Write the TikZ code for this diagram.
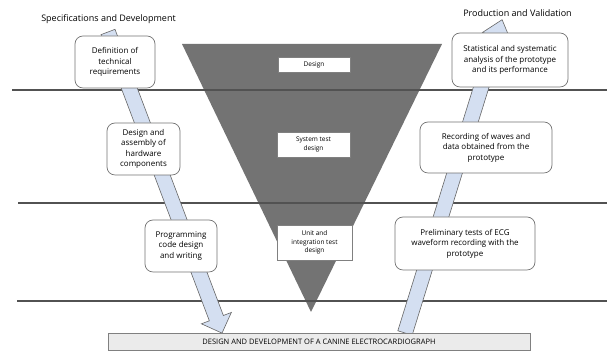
\documentclass[tikz,border=0pt]{standalone}
\usepackage{fontspec}
\setmainfont{Open Sans}
\definecolor{arrowfill}{RGB}{212,223,241}
\definecolor{trifill}{RGB}{115,115,115}
\begin{document}
\begin{tikzpicture}[x=1pt,y=1pt,
  hline/.style={draw=black!68,line width=1.1pt},
  barrow/.style={draw=black!60,fill=arrowfill,line width=0.6pt,line join=miter},
  rbox/.style={draw=black!55,fill=white,rounded corners=8pt,line width=0.7pt,align=center,
     font=\fontsize{8}{10.5}\selectfont,inner sep=2pt},
  ibox/.style={draw=black!50,fill=white,line width=0.5pt,align=center,
     font=\fontsize{6.5}{8.5}\selectfont,inner sep=1pt},
  ttl/.style={font=\fontsize{9}{11}\selectfont}]
\useasboundingbox (0,0) rectangle (611,352);
% triangle
\fill[trifill] (182,308) -- (442,308) -- (311,40) -- cycle;
% horizontal lines
\coordinate (l1a) at (12,262); \coordinate (l1b) at (607,262);
\coordinate (l2a) at (18,149); \coordinate (l2b) at (607,149);
\coordinate (l3a) at (17,51);  \coordinate (l3b) at (607,51);
\draw[hline] (l1a) -- (l1b);
\draw[hline] (l2a) -- (l2b);
\draw[hline] (l3a) -- (l3b);
% inner boxes
\node[ibox,minimum width=72pt,minimum height=15pt] (d1) at (314,287.5) {Design};
\node[ibox,minimum width=73pt,minimum height=25pt] (d2) at (313.5,207.5) {System test\\design};
\node[ibox,minimum width=75pt,minimum height=35pt] (d3) at (314.5,109.5) {Unit and\\integration test\\design};
% left arrow
\begin{scope}[shift={(108,320)},rotate=-69.26]
\draw[barrow] (0,7.5) -- (306,7.5) -- (306,16) -- (322,0) -- (306,-16) -- (306,-7.5) -- (0,-7.5) -- cycle;
\end{scope}
% right arrow
\begin{scope}[shift={(405,19)},rotate=72.78]
\draw[barrow] (0,7.5) -- (310,7.5) -- (310,15) -- (328,0) -- (310,-15) -- (310,-7.5) -- (0,-7.5) -- cycle;
\end{scope}
% boxes
\node[rbox,minimum width=80pt,minimum height=52pt] (a1) at (115,290) {Definition of\\technical\\requirements};
\node[rbox,minimum width=73pt,minimum height=52pt] (a2) at (143.5,203) {Design and\\assembly of\\hardware\\components};
\node[rbox,minimum width=72pt,minimum height=52pt] (a3) at (181,106) {Programming\\code design\\and writing};
\node[rbox,minimum width=116pt,minimum height=54pt] (b1) at (510,292) {Statistical and systematic\\analysis of the prototype\\and its performance};
\node[rbox,minimum width=132pt,minimum height=51pt] (b2) at (486,204.5) {Recording of waves and\\data obtained from the\\prototype};
\node[rbox,minimum width=140pt,minimum height=53pt] (b3) at (465,108.5) {Preliminary tests of ECG\\waveform recording with the\\prototype};
% bottom box
\node[draw=black!50,fill=black!8,line width=0.6pt,minimum width=422pt,minimum height=17pt,inner sep=0pt,
  font=\fontsize{7.5}{9}\selectfont] (bot) at (319,10) {DESIGN AND DEVELOPMENT OF A CANINE ELECTROCARDIOGRAPH};
% titles
\node[ttl] (t1) at (108.5,333) {Specifications and Development};
\node[ttl] (t2) at (517.5,339) {Production and Validation};
\end{tikzpicture}
\end{document}
